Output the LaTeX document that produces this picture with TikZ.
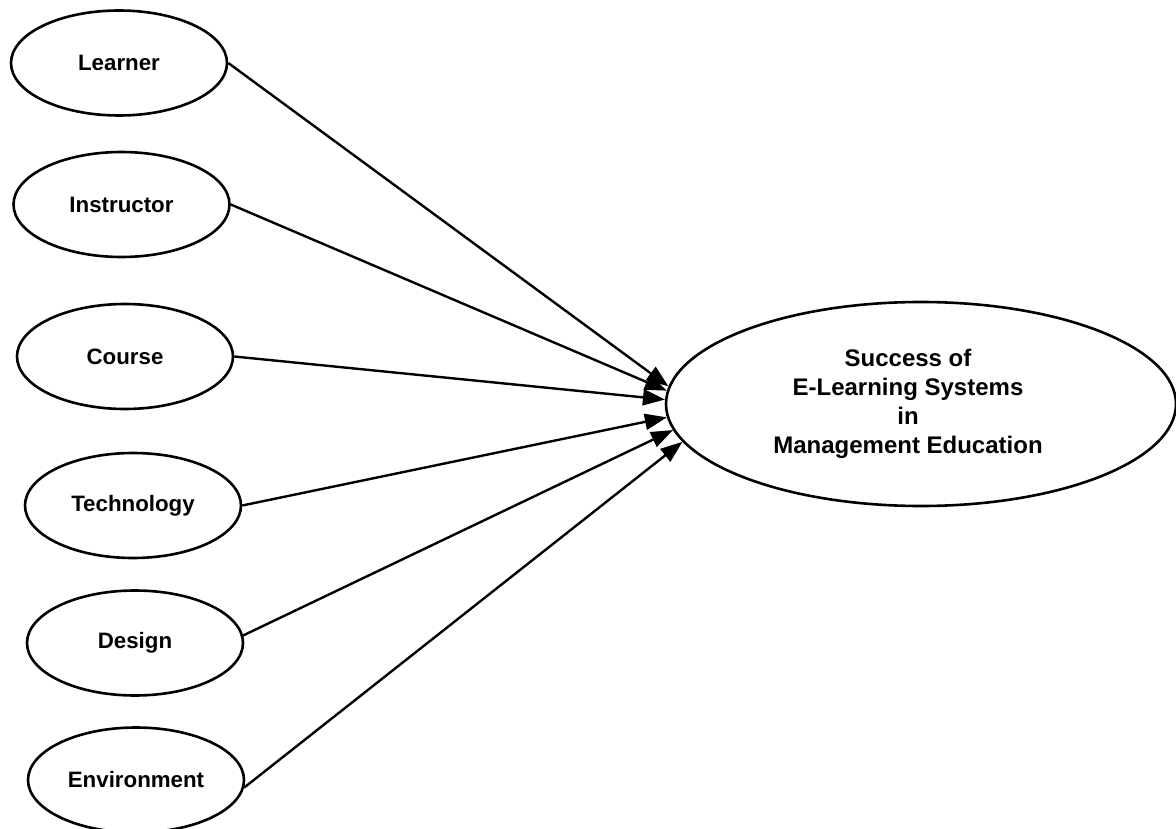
\documentclass[tikz,border=0pt]{standalone}
\usepackage{fontspec}
\setmainfont{Liberation Sans}
\usetikzlibrary{shapes.geometric,arrows.meta}
\newcommand{\padr}[1]{\mbox{#1\kern26pt}}
\begin{document}
\begin{tikzpicture}[x=1pt,y=-1pt,
  factor/.style={draw, ellipse, line width=2.6pt, minimum width=216pt, minimum height=105pt, inner sep=0pt, font=\fontsize{22.3}{26}\selectfont\bfseries},
  outcome/.style={draw, ellipse, line width=2.6pt, minimum width=510pt, minimum height=204pt, inner sep=0pt, align=center, font=\fontsize{24}{29}\selectfont\bfseries},
  link/.style={line width=2.4pt, -{Triangle[length=22pt,width=16pt]}}]
\useasboundingbox (0,0) rectangle (1176,829);
\node[factor] (learner) at (119,63) {Learner};
\node[factor] (instructor) at (121.5,204.5) {Instructor};
\node[factor] (course) at (125,356.5) {Course};
\node[factor] (technology) at (133,505.5) {Technology};
\node[factor] (design) at (135,643) {Design};
\node[factor] (environment) at (136,780) {Environment};
\node[outcome] (success) at (921,404) {\padr{Success of}\\\padr{E-Learning Systems}\\\padr{in}\\\padr{Management Education}};
\draw[link] (learner.east) -- (success.176.6);
\draw[link] (instructor.east) -- (success.177.3);
\draw[link] (course.east) -- (success.179.1);
\draw[link] (technology.east) -- (success.183.2);
\draw[link] (design.4) -- (success.186.5);
\draw[link] (environment.-4) -- (success.189.9);
\end{tikzpicture}
\end{document}
